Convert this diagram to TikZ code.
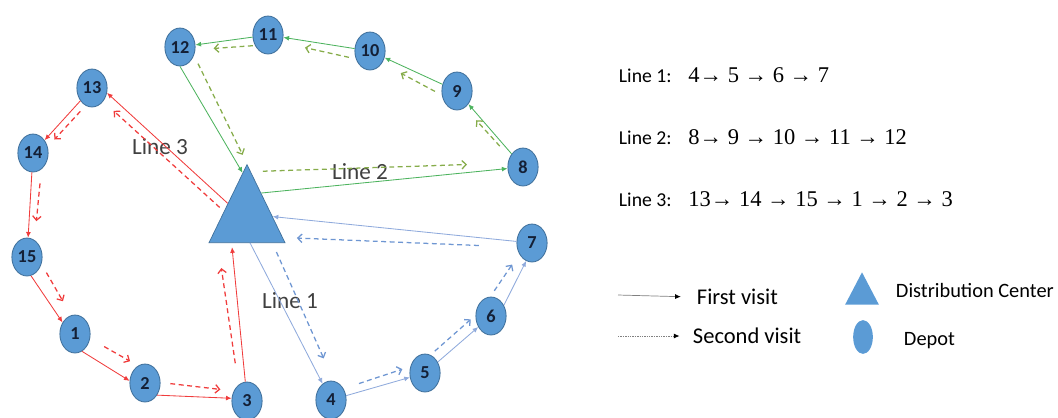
\documentclass[tikz,border=0pt]{standalone}
\usepackage{fontspec}
\setmainfont{Carlito}
\newfontfamily\numfont{Liberation Serif}
\usetikzlibrary{shapes.geometric,arrows.meta,calc}

\definecolor{depotblue}{HTML}{5B9BD5}
\definecolor{depotedge}{HTML}{41719C}
\definecolor{depottext}{HTML}{142036}
\definecolor{lineone}{HTML}{8FAADC}
\definecolor{lineonedash}{HTML}{6E96D2}
\definecolor{linetwo}{HTML}{4DB35E}
\definecolor{linetwodash}{HTML}{86AC4A}
\definecolor{linethree}{HTML}{F03C3C}
\definecolor{labelgray}{HTML}{404040}

\tikzstyle{depot} = [ellipse, draw=depotedge, line width=0.6pt, fill=depotblue, minimum width=21.5pt, minimum height=27pt, inner sep=0pt, text=depottext, font=\fontsize{13}{15}\selectfont\bfseries]
\tikzstyle{dcenter} = [isosceles triangle, isosceles triangle stretches, shape border rotate=90, draw=depotedge, line width=0.5pt, fill=depotblue, minimum width=54pt, minimum height=55.5pt, inner sep=0pt, anchor=lower side]
\tikzstyle{firstvisit} = [line width=0.6pt, -{Latex[length=4pt,width=3.5pt]}]
\tikzstyle{secondvisit} = [line width=0.9pt, dash pattern=on 3.5pt off 2.5pt, -{Straight Barb[length=3pt,width=6pt]}]
\tikzstyle{linelabel} = [text=labelgray, font=\fontsize{16.5}{18}\selectfont]
\tikzstyle{routetext} = [anchor=west, font=\fontsize{14}{16}\selectfont]
\tikzstyle{legendtext} = [anchor=west, font=\fontsize{16}{18}\selectfont]
\tikzstyle{legendsmall} = [anchor=west, font=\fontsize{14.5}{16}\selectfont]

\begin{document}
\begin{tikzpicture}[x=0.025cm, y=-0.025cm]
\useasboundingbox (0,0) rectangle (1058,417);

% distribution center and depots
\node[dcenter] (dc) at (247,243) {};
\node[depot] (n1) at (75,334) {1};
\node[depot] (n2) at (145,383) {2};
\node[depot] (n3) at (247,401) {3};
\node[depot] (n4) at (331,400) {4};
\node[depot] (n5) at (425,373) {5};
\node[depot] (n6) at (491,316) {6};
\node[depot] (n7) at (532,243) {7};
\node[depot] (n8) at (523,167) {8};
\node[depot] (n9) at (457,91) {9};
\node[depot] (n10) at (370,51) {10};
\node[depot] (n11) at (268,35) {11};
\node[depot] (n12) at (180,47) {12};
\node[depot] (n13) at (92,88) {13};
\node[depot] (n14) at (33,153) {14};
\node[depot] (n15) at (27,257) {15};

\node[linelabel] (l3) at (160,147) {Line 3};
\node[linelabel] (l2) at (360,172) {Line 2};
\node[linelabel] (l1) at (290,301) {Line 1};

% line 3, first visit
\draw [firstvisit,draw=linethree] (dc.left side) -- (n13.-18); % DC-13
\draw [firstvisit,draw=linethree] (n13) -- (n14); % 13-14
\draw [firstvisit,draw=linethree] (n14) -- (n15); % 14-15
\draw [firstvisit,draw=linethree] (n15.-78) -- (n1.137); % 15-1
\draw [firstvisit,draw=linethree] (n1.-68) -- (n2.172); % 1-2
\draw [firstvisit,draw=linethree] (n2.-45) -- (n3.170); % 2-3
\draw [firstvisit,draw=linethree,shorten >=3pt] (n3.95) -- ($(dc.left corner)!0.3!(dc.right corner)$); % 3-DC

% line 3, second visit
\draw [secondvisit,draw=linethree,shorten <=4pt,shorten >=10pt] ($(dc.apex)!0.6!(dc.left corner)$) -- (n13.-50); % DC-13
\draw [secondvisit,draw=linethree,shorten <=5.5pt,shorten >=7pt] (n13.-110) -- (n14.23); % 13-14
\draw [secondvisit,draw=linethree,shorten <=10pt,shorten >=13.5pt] (n14.-63) -- (n15.66); % 14-15
\draw [secondvisit,draw=linethree,shorten <=7pt,shorten >=11.5pt] (n15.-26) -- (n1.102); % 15-1
\draw [secondvisit,draw=linethree,shorten <=11.5pt,shorten >=6.5pt] (n1.-17) -- (n2.112); % 1-2
\draw [secondvisit,draw=linethree,shorten <=7pt,shorten >=9.5pt] (n2.2) -- (n3.143); % 2-3
\draw [secondvisit,draw=linethree,shorten <=15.5pt,shorten >=18pt] (n3.118) -- ($(dc.left corner)!0.12!(dc.right corner)$); % 3-DC

% line 2, first visit
\draw [firstvisit,draw=linetwo] ($(dc.apex)!0.37!(dc.right corner)$) -- (n8); % DC-8
\draw [firstvisit,draw=linetwo] (n8) -- (n9); % 8-9
\draw [firstvisit,draw=linetwo] (n9) -- (n10); % 9-10
\draw [firstvisit,draw=linetwo] (n10) -- (n11); % 10-11
\draw [firstvisit,draw=linetwo] (n11) -- (n12); % 11-12
\draw [firstvisit,draw=linetwo] (n12.south) -- ($(dc.apex)!0.115!(dc.left corner)$); % 12-DC

% line 2, second visit
\draw [secondvisit,draw=linetwodash,shorten <=8.5pt,shorten >=29pt] ($(dc.apex)!0.1!(dc.right corner)$) -- (n8.166); % DC-8
\draw [secondvisit,draw=linetwodash,shorten <=10.5pt,shorten >=12pt] (n8.143) -- (n9.-65); % 8-9
\draw [secondvisit,draw=linetwodash,shorten <=5.5pt,shorten >=15pt] (n9.195) -- (n10.-45); % 9-10
\draw [secondvisit,draw=linetwodash,shorten <=5pt,shorten >=16.5pt] (n10.209) -- (n11.-28); % 10-11
\draw [secondvisit,draw=linetwodash,shorten <=1.5pt,shorten >=13pt] (n11.219) -- (n12.-10); % 11-12
\draw [secondvisit,draw=linetwodash,shorten <=6.5pt,shorten >=7pt] (n12.-31) -- (dc.apex); % 12-DC

% line 1, first visit
\draw [firstvisit,draw=lineone] ($(dc.left corner)!0.54!(dc.right corner)$) -- (n4); % DC-4
\draw [firstvisit,draw=lineone] (n4) -- (n5); % 4-5
\draw [firstvisit,draw=lineone] (n5) -- (n6); % 5-6
\draw [firstvisit,draw=lineone] (n6.40) -- (n7.-108); % 6-7
\draw [firstvisit,draw=lineone] (n7) -- ($(dc.apex)!0.667!(dc.right corner)$); % 7-DC

% line 1, second visit
\draw [secondvisit,draw=lineonedash,shorten <=7pt,shorten >=17.5pt] ($(dc.left corner)!0.83!(dc.right corner)$) -- (n4.82); % DC-4
\draw [secondvisit,draw=lineonedash,shorten <=11.5pt,shorten >=6pt] (n4.42) -- (n5.156); % 4-5
\draw [secondvisit,draw=lineonedash,shorten <=4pt,shorten >=4.5pt] (n5.73) -- (n6.177); % 5-6
\draw [secondvisit,draw=lineonedash,shorten <=5pt,shorten >=9pt] (n6.92) -- (n7.221); % 6-7
\draw [secondvisit,draw=lineonedash,shorten <=27pt,shorten >=10pt] (n7.195) -- ($(dc.apex)!0.93!(dc.right corner)$); % 7-DC

% routes
\node[routetext] (r1) at (614,75) {Line 1:\hspace{12pt}{\numfont\fontsize{16}{18}\selectfont 4→ 5 → 6 → 7}};
\node[routetext] (r2) at (614,137) {Line 2:\hspace{12pt}{\numfont\fontsize{16}{18}\selectfont 8→ 9 → 10 → 11 → 12}};
\node[routetext] (r3) at (614,199) {Line 3:\hspace{12pt}{\numfont\fontsize{16}{18}\selectfont 13→ 14 → 15 → 1 → 2 → 3}};

% legend
\coordinate (fv) at (618,295);
\node[legendtext] (fvt) at (692,297) {First visit};
\draw [line width=0.5pt,draw=gray,-{Latex[black,length=4pt,width=3.5pt]},shorten >=8pt] (fv) -- (fvt.west);
\coordinate (sv) at (618,336);
\node[legendtext] (svt) at (688,336) {Second visit};
\draw [line width=0.6pt,draw=gray,dash pattern=on 1pt off 0.7pt,-{Latex[black,length=4pt,width=3.5pt]},shorten >=6pt] (sv) -- (svt.west);

\node[dcenter,draw=none,minimum width=24pt,minimum height=23pt] (ldc) at (862,305) {};
\node[depot,draw=none,minimum width=14pt,minimum height=24pt] (ldp) at (863,337) {};
\node[legendsmall] (ldct) at (891,290) {Distribution Center};
\node[legendsmall] (ldpt) at (899,341) {Depot};

\end{tikzpicture}
\end{document}
